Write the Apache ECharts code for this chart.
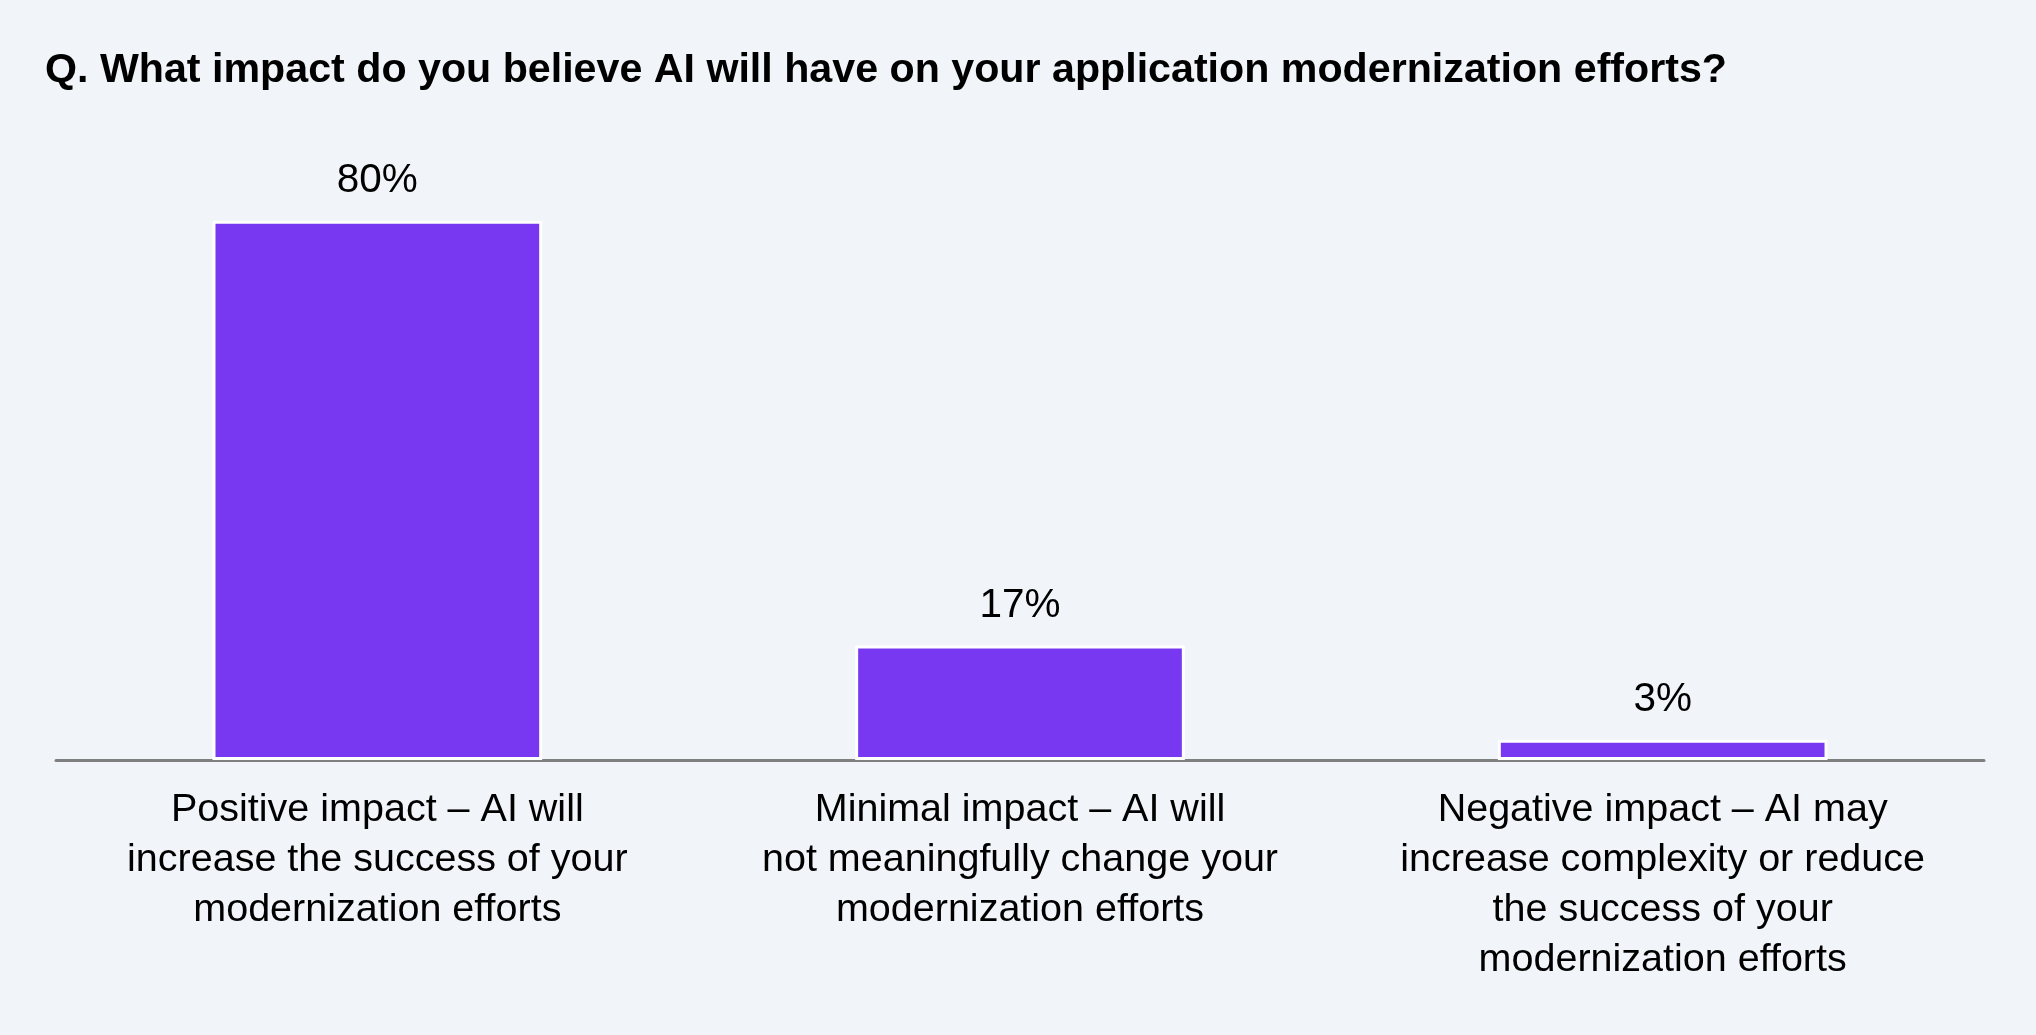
<!DOCTYPE html>
<html>
<head>
<meta charset="utf-8">
<script src="https://cdn.jsdelivr.net/npm/echarts@6/dist/echarts.min.js"></script>
<style>
  html, body { margin: 0; padding: 0; background: #f1f5f9; }
  #chart { width: 2036px; height: 1035px; }
</style>
</head>
<body>
<div id="chart"></div>
<script>
// survey question + answers
const titleText = 'Q. What impact do you believe AI will have on your application modernization efforts?';
const categories = [
  'Positive impact – AI will\nincrease the success of your\nmodernization efforts',
  'Minimal impact – AI will\nnot meaningfully change your\nmodernization efforts',
  'Negative impact – AI may\nincrease complexity or reduce\nthe success of your\nmodernization efforts'
];
const shares = [80, 17, 3];

const FONT = '"Liberation Sans", Arial, Helvetica, sans-serif';
const chart = echarts.init(document.getElementById('chart'));

chart.setOption({
  backgroundColor: '#f1f5f9',
  animation: false,
  title: {
    text: titleText,
    left: 40,
    top: 45,
    textStyle: { fontFamily: FONT, fontSize: 41.2, fontWeight: 'bold', color: '#000' }
  },
  grid: { left: 56, right: 52, top: 86, bottom: 275 },
  xAxis: {
    type: 'category',
    data: categories,
    axisLine: { lineStyle: { color: '#7f7f7f', width: 3 } },
    axisTick: { show: false },
    axisLabel: {
      interval: 0,
      margin: 25,
      fontFamily: FONT,
      fontSize: 39.5,
      lineHeight: 50,
      color: '#000',
      align: 'center'
    }
  },
  yAxis: {
    type: 'value',
    min: 0,
    max: 100,
    show: false,
    splitLine: { show: false }
  },
  series: [{
    type: 'bar',
    data: shares,
    barWidth: '51.3%',
    itemStyle: { color: '#7838f2', borderColor: '#ffffff', borderWidth: 3 },
    label: {
      show: true,
      position: 'top',
      distance: 19,
      formatter: '{c}%',
      fontFamily: FONT,
      fontSize: 40.5,
      color: '#000'
    }
  }]
});
</script>
</body>
</html>
